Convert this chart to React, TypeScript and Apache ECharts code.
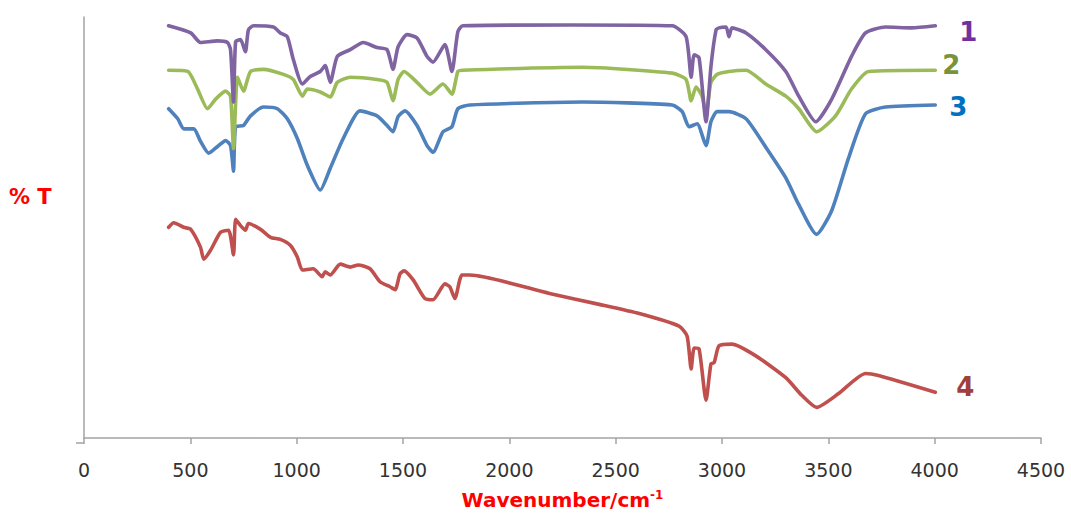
import React, { useEffect, useRef } from "react";
import * as echarts from "echarts";

// Wavenumber (cm-1) and %T readings for each spectrum
const wn1 = [398,502,548,628,675,689,703,713,736,759,773,797,891,923,956,984,1027,1064,1111,1134,1158,1191,1252,1313,1378,1425,1453,1477,1519,1566,1613,1641,1697,1730,1758,1781,2300,2766,2831,2855,2869,2892,2925,2948,2972,2986,3019,3033,3047,3113,3206,3300,3361,3441,3516,3609,3675,3769,3891,4003];
const t1 = [97.9,96.2,93.9,94.3,93.9,92.2,79.7,94.1,94.6,91.7,96.9,97.9,97.6,96.2,95.3,89.9,84.0,85.8,87.0,88.4,84.4,90.6,92.2,93.9,92.7,92.2,87.5,92.9,95.8,95.0,90.6,89.2,93.4,87.0,96.5,97.9,98.1,97.9,95.3,85.6,91.0,90.3,75.0,88.2,96.9,97.4,97.6,95.3,97.4,96.2,92.2,87.0,81.1,75.0,80.4,90.6,96.2,97.6,97.4,97.9];

const wn2 = [398,488,534,581,619,666,689,703,722,750,783,844,938,984,1027,1050,1111,1158,1191,1252,1378,1425,1453,1477,1505,1566,1627,1688,1730,1758,1781,2344,2766,2831,2855,2878,2906,2925,2948,2977,3033,3113,3206,3300,3361,3445,3534,3609,3689,4003];
const t2 = [87.3,87.0,82.8,78.1,80.4,82.3,81.1,68.6,85.6,82.3,87.0,87.5,86.3,85.1,81.1,82.8,82.1,80.9,84.4,85.6,85.1,84.4,80.0,85.1,87.0,84.4,81.6,84.0,81.6,87.0,87.3,88.0,86.6,85.1,80.0,83.3,81.1,76.9,84.4,86.3,87.0,87.3,84.0,81.1,78.1,72.6,76.4,82.8,87.0,87.3];

const wn3 = [398,441,469,516,548,586,628,666,689,703,713,750,783,844,909,956,1003,1050,1111,1158,1219,1298,1378,1425,1453,1477,1509,1566,1613,1641,1688,1730,1758,1814,2344,2766,2813,2845,2883,2925,2948,2977,3033,3113,3206,3300,3361,3445,3516,3595,3675,3769,4003];
const t3 = [78.1,75.7,73.3,73.3,70.3,67.5,69.1,70.5,69.3,63.2,73.8,74.1,76.4,78.5,78.1,75.7,71.0,64.6,58.7,63.9,71.0,77.6,76.4,74.1,72.6,76.2,77.6,74.1,69.3,67.7,72.6,73.8,78.1,79.0,79.7,79.0,77.4,73.8,74.5,69.3,75.0,77.4,77.4,75.7,68.9,61.6,55.2,48.1,53.8,66.3,76.9,78.5,79.0];

const wn4 = [398,422,469,502,548,563,595,642,680,703,713,736,759,773,830,877,923,970,1003,1027,1078,1120,1134,1158,1205,1252,1289,1345,1392,1439,1463,1486,1505,1547,1603,1641,1697,1720,1744,1777,1814,2189,2423,2611,2798,2836,2855,2869,2892,2925,2948,2963,2986,3047,3159,3300,3375,3445,3548,3675,3736,4003];
const t4 = [49.8,50.9,49.8,49.3,45.0,42.2,44.3,48.6,49.1,43.2,51.7,50.2,49.1,50.7,49.3,47.4,46.9,45.5,42.7,39.6,39.9,38.0,39.2,38.4,41.0,40.3,40.8,39.9,36.8,35.6,34.9,38.7,39.4,37.3,32.8,32.5,36.3,35.6,32.8,38.4,38.4,34.0,31.4,29.2,26.2,23.8,16.0,21.0,20.8,8.5,17.2,17.5,21.5,21.9,19.1,13.9,9.7,6.8,10.1,14.9,14.4,10.4];

const seriesNames = ["1", "2", "3", "4"];
const xTicks = [0, 500, 1000, 1500, 2000, 2500, 3000, 3500, 4000, 4500];

const zip = (a: number[], b: number[]) => a.map((v, i) => [v, b[i]]);

export default function App() {
  const ref = useRef<HTMLDivElement>(null);
  useEffect(() => {
    if (!ref.current) return;
    const chart = echarts.init(ref.current, null, { renderer: "svg" });
    const mk = (
      name: string,
      data: number[][],
      color: string,
      labelColor: string,
      dist: number,
      dy: number,
      z: number
    ) => ({
      type: "line",
      name,
      data,
      showSymbol: false,
      symbol: "none",
      smooth: 0.2,
      z,
      lineStyle: { color, width: 3.6, cap: "round", join: "round" },
      itemStyle: { color },
      endLabel: {
        show: true,
        formatter: name,
        distance: dist,
        offset: [0, dy],
        color: labelColor,
        fontFamily: "DejaVu Sans",
        fontWeight: "bold",
        fontSize: 26,
      },
    });
    chart.setOption({
      animation: false,
      backgroundColor: "#ffffff",
      grid: { left: 84, width: 957, top: 17, height: 426, containLabel: false },
      xAxis: {
        type: "value",
        min: xTicks[0],
        max: xTicks[xTicks.length - 1],
        interval: 500,
        splitLine: { show: false },
        axisLine: { show: true, onZero: false, lineStyle: { color: "#a3a3a3", width: 1.5 } },
        axisTick: { show: true, length: 6, lineStyle: { color: "#a3a3a3", width: 1.5 } },
        axisLabel: {
          margin: 22,
          color: "#333333",
          fontFamily: "DejaVu Sans",
          fontSize: 19,
          formatter: (v: number) => String(v),
        },
        name: "{a|Wavenumber/cm}{s|-1}",
        nameLocation: "middle",
        nameGap: 51,
        nameTextStyle: {
          rich: {
            a: { fontFamily: "DejaVu Sans", fontWeight: "bold", fontSize: 20, color: "#ff0000", lineHeight: 22 },
            s: { fontFamily: "DejaVu Sans", fontWeight: "bold", fontSize: 12, color: "#ff0000", verticalAlign: "top", lineHeight: 22, padding: [0, 0, 10, 0] },
          },
        },
      },
      yAxis: {
        type: "value",
        min: -0.5,
        max: 100,
        splitLine: { show: false },
        axisLine: { show: true, lineStyle: { color: "#a3a3a3", width: 1.5 } },
        axisTick: { show: false },
        axisLabel: { show: false },
      },
      graphic: [
        {
          type: "text",
          left: 9,
          top: 186,
          style: {
            text: "% T",
            fill: "#ff0000",
            font: "bold 21px 'DejaVu Sans'",
          },
        },
        {
          type: "line",
          shape: { x1: 76, y1: 443, x2: 84, y2: 443 },
          style: { stroke: "#a3a3a3", lineWidth: 1.5 },
        },
      ],
      series: [
        mk(seriesNames[3], zip(wn4, t4), "#c0504d", "#a0403e", 21, -5, 2),
        mk(seriesNames[2], zip(wn3, t3), "#4f81bd", "#0070c0", 14, 2, 3),
        mk(seriesNames[1], zip(wn2, t2), "#9bbb59", "#77933c", 7, -5, 4),
        mk(seriesNames[0], zip(wn1, t1), "#8064a2", "#7030a0", 24, 6, 5),
      ],
    });
    return () => chart.dispose();
  }, []);
  return (
    <div
      ref={ref}
      style={{ position: "fixed", left: 0, top: 0, width: 1071, height: 516, background: "#fff" }}
    />
  );
}
